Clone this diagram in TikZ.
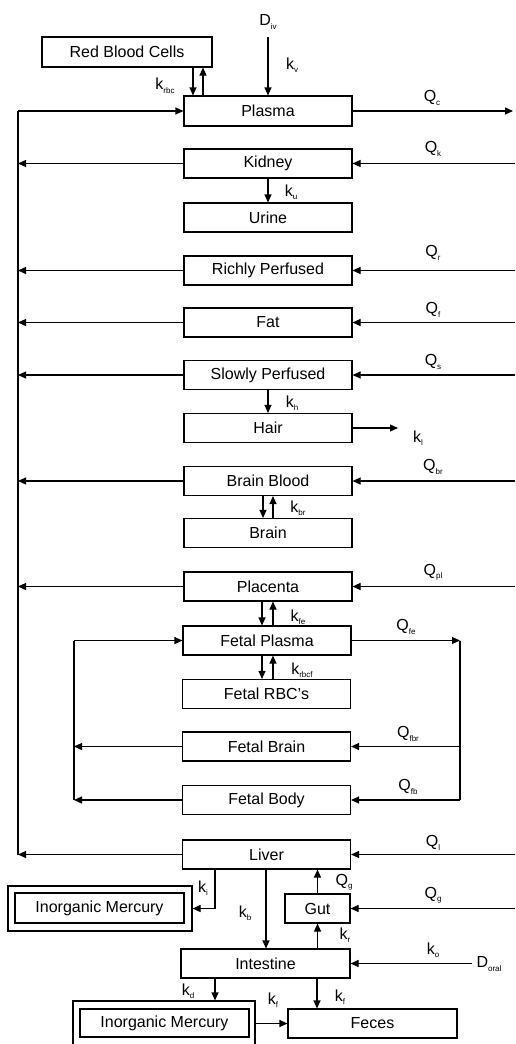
\documentclass[tikz,border=0pt]{standalone}
\usepackage{fontspec}
\setmainfont{Liberation Sans}
\usetikzlibrary{arrows.meta}
\newcommand\lbl[2]{#1\raisebox{-0.22em}{\fontsize{8}{8}\selectfont #2}}
\begin{document}
\begin{tikzpicture}[x=1pt,y=-1pt,
  font=\fontsize{16}{18}\selectfont,
  comp/.style={draw, line width=1.1pt, minimum width=168pt, minimum height=29pt, inner sep=0pt},
  outerbox/.style={draw, line width=1.1pt, inner sep=0pt},
  arr/.style={-{Triangle[length=8pt,width=7pt]}, line width=1.1pt},
  ln/.style={line width=1.1pt},
  tag/.style={inner sep=0pt}]
\useasboundingbox (0,0) rectangle (515,1044);
\clip (0,0) rectangle (515,1044);

% compartments
\node[comp, minimum width=170pt, minimum height=30pt] (rbc) at (127,52) {Red Blood Cells};
\node[comp, minimum height=30pt] (plasma) at (268,111) {Plasma};
\node[comp] (kidney) at (268,163.5) {Kidney};
\node[comp] (urine) at (268,217.5) {Urine};
\node[comp] (rich) at (268,270.5) {Richly Perfused};
\node[comp] (fat) at (268,322.5) {Fat};
\node[comp] (slow) at (268,375) {Slowly Perfused};
\node[comp] (hair) at (268,428) {Hair};
\node[comp] (bblood) at (268,481) {Brain Blood};
\node[comp] (brain) at (268,533) {Brain};
\node[comp] (plac) at (268,586.5) {Placenta};
\node[comp] (fplasma) at (267,640.5) {Fetal Plasma};
\node[comp] (frbc) at (266.5,694) {Fetal RBC's};
\node[comp] (fbrain) at (266.5,746.5) {Fetal Brain};
\node[comp] (fbody) at (266.5,800) {Fetal Body};
\node[comp] (liver) at (266.5,854.5) {Liver};
\node[comp, minimum width=65pt] (gut) at (317.5,908.5) {Gut};
\node[comp, minimum width=169pt] (intest) at (265.5,963.5) {Intestine};
\node[comp, minimum width=169pt] (feces) at (372.5,1023.5) {Feces};

% inorganic mercury compartments (double frame)
\node[outerbox, minimum width=184pt, minimum height=45pt] (imoA) at (100,908.5) {};
\node[comp, minimum width=169pt, minimum height=30pt] (imA) at (99.5,908) {Inorganic Mercury};
\node[outerbox, minimum width=182pt, minimum height=47pt] (imoB) at (164,1024.5) {};
\node[comp, minimum width=169pt, minimum height=28pt] (imB) at (164.5,1023) {Inorganic Mercury};

% reference coordinates for the venous and arterial lines
\coordinate (vtop) at (18,111);
\coordinate (vbot) at (18,854.5);
\coordinate (art) at (515,0);
\coordinate (fl) at (74,640.5);
\coordinate (fr) at (460,640.5);
\coordinate (fb) at (74,800);

% intravenous dose
\node[tag] (div) at (268,22) {\lbl{D}{iv}};
\coordinate (divs) at (268,37);
\draw[arr] (divs) -- (plasma.north);
\node[tag] at (292,65) {\lbl{k}{v}};

% red blood cells exchange
\draw[arr] (rbc.south -| 193,0) -- (plasma.north -| 193,0);
\draw[arr] (plasma.north -| 203,0) -- (rbc.south -| 203,0);
\node[tag] at (165,86) {\lbl{k}{rbc}};

% cardiac output
\draw[arr] (plasma.east) -- (plasma.east -| 513,0);
\node[tag] at (432,98) {\lbl{Q}{c}};

% venous return line
\draw[ln] (vbot) -- (vtop);
\draw[arr] (vtop) -- (plasma.west);

% tissue blood flows
\foreach \n/\q/\y in {kidney/k/149, rich/r/253, fat/f/310, slow/s/362, bblood/br/467, plac/pl/572, liver/l/843}{
  \draw[arr] (\n.east -| art) -- (\n.east);
  \draw[arr] (\n.west) -- (\n.west -| vtop);
  \node[tag] at (433,\y) {\lbl{Q}{\q}};
}

% excretion and tissue exchanges
\draw[arr] (kidney.south) -- (urine.north);
\node[tag] at (291,192) {\lbl{k}{u}};
\draw[arr] (slow.south) -- (hair.north);
\node[tag] at (292,403) {\lbl{k}{h}};
\coordinate (hairout) at (398,428);
\draw[arr] (hair.east) -- (hairout);
\node[tag] at (418,438) {\lbl{k}{l}};

\draw[arr] (bblood.south -| 263,0) -- (brain.north -| 263,0);
\draw[arr] (brain.north -| 273,0) -- (bblood.south -| 273,0);
\node[tag] at (298,508) {\lbl{k}{br}};

\draw[arr] (plac.south -| 262,0) -- (fplasma.north -| 262,0);
\draw[arr] (fplasma.north -| 273,0) -- (plac.south -| 273,0);
\node[tag] at (298,617) {\lbl{k}{fe}};

\draw[arr] (fplasma.south -| 262,0) -- (frbc.north -| 262,0);
\draw[arr] (frbc.north -| 273,0) -- (fplasma.south -| 273,0);
\node[tag] at (302,670) {\lbl{k}{rbcf}};

% fetal circulation
\draw[arr] (fplasma.east) -- (fr);
\node[tag] at (406,627) {\lbl{Q}{fe}};
\draw[ln] (fr) -- (fr |- fbody.east);
\draw[arr] (fr |- fbrain.east) -- (fbrain.east);
\draw[arr] (fr |- fbody.east) -- (fbody.east);
\node[tag] at (408,734) {\lbl{Q}{fbr}};
\node[tag] at (408,787) {\lbl{Q}{fb}};
\draw[arr] (fbrain.west) -- (fbrain.west -| fl);
\draw[arr] (fbody.west) -- (fb);
\draw[ln] (fb) -- (fl);
\draw[arr] (fl) -- (fplasma.west);

% liver and gut
\draw[arr] (liver.south -| 215,0) |- (imoA.east);
\node[tag] at (203,888) {\lbl{k}{i}};
\draw[arr] (liver.south -| 266,0) -- (intest.north -| 266,0);
\node[tag] at (245,913) {\lbl{k}{b}};
\draw[arr] (gut.north) -- (liver.south -| gut.north);
\node[tag] at (344,882) {\lbl{Q}{g}};
\draw[arr] (gut.east -| art) -- (gut.east);
\node[tag] at (433,895) {\lbl{Q}{g}};
\draw[arr] (intest.north -| gut.south) -- (gut.south);
\node[tag] at (345,935) {\lbl{k}{r}};

% oral dose
\node[tag] (doral) at (489,964) {\lbl{D}{oral}};
\coordinate (dorals) at (472,963.5);
\draw[arr] (dorals) -- (intest.east);
\node[tag] at (433,950) {\lbl{k}{o}};

% fecal elimination
\draw[arr] (intest.south -| 215,0) -- (imoB.north -| 215,0);
\node[tag] at (188,991) {\lbl{k}{d}};
\draw[arr] (intest.south -| 317,0) -- (feces.north -| 317,0);
\node[tag] at (340,997) {\lbl{k}{f}};
\draw[arr] (imoB.east |- feces.west) -- (feces.west);
\node[tag] at (273,1000) {\lbl{k}{f}};
\end{tikzpicture}
\end{document}
